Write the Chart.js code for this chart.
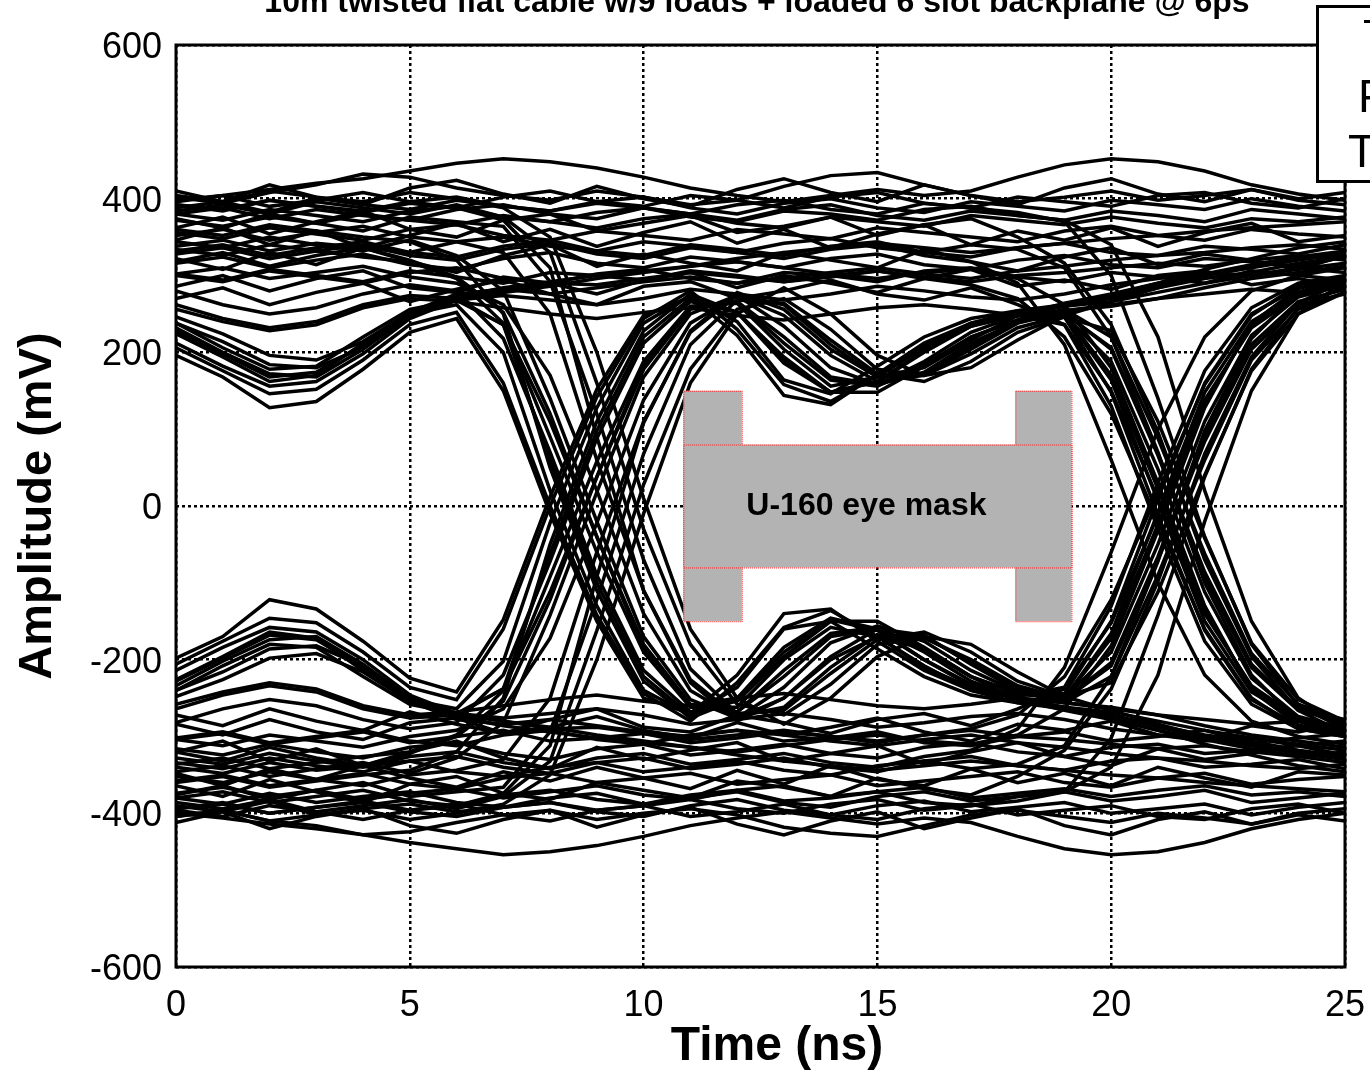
<!DOCTYPE html>
<html>
<head>
<meta charset="utf-8">
<title>Eye diagram</title>
<script src="https://cdn.jsdelivr.net/npm/chart.js@4.4.1/dist/chart.umd.min.js"></script>
<style>
  body { margin: 0; background: #fff; }
  canvas { display: block; }
</style>
</head>
<body>
<canvas id="eye" width="1370" height="1075"></canvas>
<script>
// sample times in ns, one point per ns
const timeNs = [0,1,2,3,4,5,6,7,8,9,10,11,12,13,14,15,16,17,18,19,20,21,22,23,24,25];
const xTicks = [0, 5, 10, 15, 20, 25];
const yTicks = [-600, -400, -200, 0, 200, 400, 600];

const titleText = '10m twisted flat cable w/9 loads + loaded 6 slot backplane @ 6ps';

// --- traces starting high (mV) ---
const steadyHigh = [
  [388,396,382,401,392,386,398,390,384,396,402,388,380,394,400,388,382,396,390,384,398,392,386,400,390,384],
  [402,394,408,418,432,428,414,404,398,410,402,392,398,416,430,434,418,404,396,402,410,398,404,412,398,392],
  [372,364,376,368,380,372,366,378,370,362,374,380,368,362,376,370,364,378,372,366,376,368,362,374,370,376],
  [398,404,412,420,426,436,446,452,448,440,428,414,404,396,404,412,404,410,428,444,452,448,436,418,406,398],
  [332,340,326,336,344,330,324,338,346,332,326,340,334,326,338,344,330,324,336,342,330,326,338,334,328,340],
  [300,292,306,298,290,304,310,296,290,302,308,296,290,304,300,292,306,310,298,292,304,298,290,306,300,294],
  [356,348,362,354,346,360,366,352,346,358,352,346,360,354,348,362,356,350,344,358,364,352,346,360,354,350],
  [396,404,390,398,408,396,388,402,410,396,390,404,398,388,402,408,394,388,402,396,390,404,408,394,388,400],
  [380,372,386,378,370,384,390,376,370,382,388,376,370,384,380,372,386,390,378,372,384,378,370,386,380,374],
  [316,324,310,320,328,314,308,322,330,316,310,324,318,310,322,328,314,308,320,326,314,310,322,318,312,324],
  [346,362,340,358,336,352,368,344,360,338,356,370,342,360,336,354,366,340,358,346,362,338,356,368,344,352],
  [410,396,418,402,392,414,424,406,394,416,400,390,412,426,408,396,418,404,392,414,426,406,396,412,400,408],
  [322,308,330,314,336,318,304,326,340,312,328,316,306,330,320,310,334,318,306,324,336,314,328,320,308,326],
  [286,300,280,296,306,284,278,298,290,276,294,304,284,300,290,278,296,308,286,294,282,300,306,288,296,284]
];
const highFallAtT2 = [
  [392,384,398,390,384,396,402,390,384,394,388,380,392,398,386,380,394,388,382,370,300,140,-40,-180,-260,-290],
  [338,346,332,342,336,330,344,350,338,332,344,338,330,342,348,336,330,340,334,310,220,70,-100,-220,-280,-300],
  [302,294,308,300,292,306,298,290,304,300,294,306,300,292,298,306,296,288,270,220,120,-20,-160,-250,-290,-300],
  [232,200,172,168,204,248,272,284,292,300,306,312,318,310,302,296,304,308,296,262,180,30,-130,-240,-285,-300],
  [380,388,374,386,378,372,386,392,380,374,388,380,372,386,392,378,372,384,378,372,340,220,20,-150,-250,-290],
  [328,336,322,332,340,326,320,334,342,328,322,336,330,322,334,340,326,318,290,210,60,-100,-220,-280,-300,-310],
  [362,376,354,370,384,360,350,372,380,358,368,378,356,364,376,352,366,374,350,316,236,96,-70,-196,-266,-296],
  [270,284,262,278,290,266,282,294,276,262,286,292,270,280,294,276,268,284,262,236,150,10,-140,-234,-276,-290]
];
const settleHigh = [
  [212,182,156,162,198,244,268,278,286,296,304,312,322,330,336,342,336,330,336,342,348,352,358,362,366,370],
  [246,224,196,190,214,252,276,282,276,284,292,298,290,296,304,310,302,296,306,312,320,326,330,336,340,334],
  [256,240,228,236,258,270,266,258,250,244,252,258,248,242,250,258,262,256,248,254,262,270,276,282,278,284],
  [228,198,168,174,210,250,272,280,290,288,296,304,298,292,300,306,298,292,300,304,310,316,312,320,326,320],
  [238,214,184,180,206,246,268,274,268,262,270,282,276,268,276,286,280,272,268,276,288,296,304,300,310,304]
];
const fallStayLow = [
  [392,386,398,390,382,394,388,372,310,90,-110,-230,-280,-250,-200,-170,-186,-222,-252,-266,-278,-292,-304,-316,-326,-334],
  [334,326,340,332,324,318,296,238,90,-60,-190,-262,-262,-200,-158,-170,-208,-240,-256,-264,-272,-286,-298,-306,-318,-326],
  [224,194,162,170,212,250,262,200,20,-130,-240,-272,-236,-160,-150,-186,-222,-246,-256,-262,-268,-280,-292,-302,-310,-318],
  [196,168,128,136,178,226,244,150,-10,-150,-250,-270,-220,-140,-134,-176,-214,-240,-250,-256,-262,-272,-286,-298,-306,-314],
  [404,396,410,402,396,408,400,388,350,200,10,-160,-250,-284,-250,-196,-170,-180,-216,-248,-266,-284,-300,-312,-322,-330],
  [360,352,366,358,350,344,320,250,50,-110,-228,-276,-252,-190,-148,-162,-200,-234,-252,-262,-272,-288,-300,-310,-320,-328],
  [318,330,312,326,336,320,298,252,120,-40,-180,-258,-268,-222,-170,-160,-190,-228,-250,-262,-276,-292,-310,-324,-338,-346]
];
const fallThenRise = [
  [384,392,380,396,388,380,392,376,330,160,-30,-180,-258,-272,-232,-180,-172,-200,-234,-250,-190,-50,110,222,272,288],
  [344,336,350,340,332,346,326,280,140,-20,-170,-252,-276,-236,-178,-156,-176,-214,-242,-250,-172,-24,132,236,278,294],
  [238,206,178,182,220,256,268,236,60,-100,-222,-272,-250,-184,-146,-160,-200,-232,-246,-244,-150,10,160,250,284,296],
  [302,310,296,304,312,298,290,262,170,20,-140,-240,-276,-250,-196,-160,-168,-206,-240,-256,-222,-90,60,190,256,278],
  [262,244,232,240,262,274,270,236,110,-40,-186,-260,-268,-214,-166,-158,-186,-222,-244,-252,-208,-70,84,204,262,276],
  [352,360,346,356,364,350,344,330,250,60,-110,-226,-274,-262,-210,-168,-170,-204,-238,-252,-204,-66,92,210,266,282],
  [206,176,146,152,190,236,252,160,0,-142,-244,-280,-230,-158,-136,-170,-210,-236,-248,-236,-130,30,176,258,290,300],
  [374,362,380,368,358,376,370,364,292,120,-70,-212,-270,-266,-218,-174,-164,-190,-228,-248,-230,-112,40,176,250,278],
  [280,262,250,258,276,288,280,218,70,-90,-214,-268,-254,-196,-150,-150,-184,-222,-244,-250,-166,-8,148,240,276,290]
];

// --- traces starting low (mV) ---
const steadyLow = [
  [-390,-398,-384,-402,-394,-388,-398,-392,-386,-398,-404,-390,-382,-396,-402,-390,-384,-398,-392,-386,-400,-394,-388,-402,-392,-386],
  [-404,-396,-410,-416,-428,-424,-412,-402,-396,-408,-400,-394,-402,-418,-426,-430,-416,-402,-396,-404,-412,-400,-406,-414,-400,-394],
  [-374,-366,-378,-370,-382,-374,-368,-380,-372,-364,-376,-382,-370,-364,-378,-372,-366,-380,-374,-368,-378,-370,-364,-376,-372,-378],
  [-400,-406,-414,-420,-428,-438,-446,-454,-450,-442,-430,-416,-406,-398,-406,-414,-406,-412,-430,-446,-454,-450,-438,-420,-408,-400],
  [-334,-342,-328,-338,-346,-332,-326,-340,-348,-334,-328,-342,-336,-328,-340,-346,-332,-326,-338,-344,-332,-328,-340,-336,-330,-342],
  [-302,-294,-308,-300,-292,-306,-312,-298,-292,-304,-310,-298,-292,-306,-302,-294,-308,-312,-300,-294,-306,-300,-292,-308,-302,-296],
  [-358,-350,-364,-356,-348,-362,-368,-354,-348,-360,-354,-348,-362,-356,-350,-364,-358,-352,-346,-360,-366,-354,-348,-362,-356,-352],
  [-396,-404,-390,-398,-408,-396,-388,-402,-410,-396,-390,-404,-398,-388,-402,-408,-394,-388,-402,-396,-390,-404,-408,-394,-388,-400],
  [-380,-372,-386,-378,-370,-384,-390,-376,-370,-382,-388,-376,-370,-384,-380,-372,-386,-390,-378,-372,-384,-378,-370,-386,-380,-374],
  [-316,-324,-310,-320,-328,-314,-308,-322,-330,-316,-310,-324,-318,-310,-322,-328,-314,-308,-320,-326,-314,-310,-322,-318,-312,-324],
  [-348,-364,-342,-356,-338,-354,-366,-346,-358,-340,-354,-368,-344,-362,-338,-356,-364,-342,-360,-348,-364,-340,-354,-366,-346,-350],
  [-412,-398,-420,-404,-394,-416,-426,-408,-396,-418,-402,-392,-414,-428,-410,-398,-420,-406,-394,-416,-428,-408,-398,-414,-402,-410],
  [-320,-306,-332,-316,-338,-320,-306,-328,-342,-314,-330,-318,-308,-332,-322,-312,-336,-320,-308,-326,-338,-316,-330,-322,-310,-328],
  [-284,-298,-278,-294,-304,-282,-276,-296,-288,-274,-292,-302,-282,-298,-288,-276,-294,-306,-284,-292,-280,-298,-304,-286,-294,-282]
];
const lowRiseAtT2 = [
  [-394,-386,-400,-392,-386,-398,-404,-392,-386,-396,-390,-382,-394,-400,-388,-382,-396,-390,-384,-372,-302,-142,38,178,258,288],
  [-340,-348,-334,-344,-338,-332,-346,-352,-340,-334,-346,-340,-332,-344,-350,-338,-332,-342,-336,-312,-222,-72,98,218,278,298],
  [-304,-296,-310,-302,-294,-308,-300,-292,-306,-302,-296,-308,-302,-294,-300,-308,-298,-290,-272,-222,-122,18,158,248,288,298],
  [-234,-202,-174,-170,-206,-250,-274,-286,-294,-302,-308,-314,-320,-312,-304,-298,-306,-310,-298,-264,-182,-32,128,238,283,298],
  [-380,-388,-374,-386,-378,-372,-386,-392,-380,-374,-388,-380,-372,-386,-392,-378,-372,-384,-378,-372,-340,-220,-20,150,250,290],
  [-328,-336,-322,-332,-340,-326,-320,-334,-342,-328,-322,-336,-330,-322,-334,-340,-326,-318,-290,-210,-60,100,220,280,300,310],
  [-364,-378,-356,-372,-386,-362,-352,-374,-382,-360,-370,-380,-358,-366,-378,-354,-368,-376,-352,-318,-238,-98,68,194,264,294],
  [-272,-286,-264,-280,-292,-268,-284,-296,-278,-264,-288,-294,-272,-282,-296,-278,-270,-286,-264,-238,-152,-12,138,232,274,288]
];
const settleLow = [
  [-214,-184,-158,-164,-200,-246,-270,-280,-288,-298,-306,-314,-324,-332,-338,-344,-338,-332,-338,-344,-350,-354,-360,-364,-368,-372],
  [-248,-226,-198,-192,-216,-254,-278,-284,-278,-286,-294,-300,-292,-298,-306,-312,-304,-298,-308,-314,-322,-328,-332,-338,-342,-336],
  [-258,-242,-230,-238,-260,-272,-268,-260,-252,-246,-254,-260,-250,-244,-252,-260,-264,-258,-250,-256,-264,-272,-278,-284,-280,-286],
  [-228,-198,-168,-174,-210,-250,-272,-280,-290,-288,-296,-304,-298,-292,-300,-306,-298,-292,-300,-304,-310,-316,-312,-320,-326,-320],
  [-240,-216,-186,-182,-208,-248,-270,-276,-270,-264,-272,-284,-278,-270,-278,-288,-282,-274,-270,-278,-290,-298,-306,-302,-312,-306]
];
const riseStayHigh = [
  [-394,-388,-400,-392,-384,-396,-390,-374,-312,-92,108,228,278,256,204,168,180,216,248,264,276,290,302,314,324,332],
  [-336,-328,-342,-334,-326,-320,-298,-240,-92,58,188,260,264,204,156,168,206,238,254,262,270,284,296,304,316,324],
  [-226,-196,-164,-172,-214,-252,-264,-202,-22,128,238,274,240,164,146,182,220,244,254,260,266,278,290,300,308,316],
  [-198,-170,-122,-134,-176,-224,-242,-148,12,152,248,272,222,144,132,172,212,238,248,254,260,270,284,296,304,312],
  [-404,-396,-410,-402,-396,-408,-400,-388,-350,-200,-10,160,250,284,250,196,170,180,216,248,266,284,300,312,322,330],
  [-360,-352,-366,-358,-350,-344,-320,-250,-50,110,228,276,252,190,148,162,200,234,252,262,272,288,300,310,320,328],
  [-320,-332,-314,-328,-338,-322,-300,-254,-122,38,178,256,266,220,168,158,188,226,248,260,274,290,308,322,336,344]
];
const riseThenFall = [
  [-386,-394,-382,-398,-390,-382,-394,-378,-332,-162,28,178,256,270,230,178,170,198,232,248,188,48,-112,-224,-274,-290],
  [-346,-338,-352,-342,-334,-348,-328,-282,-142,18,168,250,274,234,180,158,174,212,240,250,170,22,-134,-238,-280,-296],
  [-240,-208,-180,-184,-222,-258,-270,-238,-62,98,220,270,252,186,148,162,202,234,248,246,148,-12,-162,-252,-286,-298],
  [-304,-312,-298,-306,-314,-300,-292,-264,-172,-22,138,238,274,248,196,162,170,208,242,256,220,88,-62,-192,-258,-280],
  [-264,-246,-234,-242,-264,-276,-272,-238,-112,38,184,258,266,212,164,156,184,220,242,250,206,68,-86,-206,-264,-278],
  [-352,-360,-346,-356,-364,-350,-344,-330,-250,-60,110,226,274,262,210,168,170,204,238,252,204,66,-92,-210,-266,-282],
  [-206,-176,-146,-152,-190,-236,-252,-160,0,142,244,280,230,158,136,170,210,236,248,236,130,-30,-176,-258,-290,-300],
  [-376,-364,-382,-370,-360,-378,-372,-366,-294,-122,68,210,268,264,216,172,162,188,226,246,228,110,-42,-178,-252,-280],
  [-282,-264,-252,-260,-278,-290,-282,-220,-72,88,212,266,252,194,148,148,182,220,242,248,164,6,-150,-242,-278,-292]
];

// U-160 eye mask corners (ns, mV)
const maskBodyX = [10.85, 19.15];
const maskBodyY = [-80, 80];
const maskPostLeftX = [10.85, 12.1];
const maskPostRightX = [17.95, 19.15];
const maskPostY = [-150, 150];

const FONT = "'Liberation Sans', Arial, Helvetica, sans-serif";
Chart.defaults.color = '#000';
Chart.defaults.font.family = FONT;

function toPoints(values) {
  return timeNs.map((t, i) => ({ x: t, y: values[i] }));
}

const allTraces = [].concat(
  steadyHigh, highFallAtT2, settleHigh, fallStayLow, fallThenRise,
  steadyLow, lowRiseAtT2, settleLow, riseStayHigh, riseThenFall
);

const datasets = allTraces.map(tr => ({
  data: toPoints(tr),
  borderColor: '#000',
  borderWidth: 3.5,
  pointRadius: 0,
  fill: false,
  tension: 0
}));

const eyeMask = {
  id: 'eyeMask',
  afterDatasetsDraw(chart) {
    const { ctx, scales: { x, y } } = chart;
    const box = (xs, ys) => {
      const l = x.getPixelForValue(xs[0]);
      const r = x.getPixelForValue(xs[1]);
      const t = y.getPixelForValue(ys[1]);
      const b = y.getPixelForValue(ys[0]);
      return [l, t, r - l, b - t];
    };
    const body = box(maskBodyX, maskBodyY);
    const posts = [box(maskPostLeftX, maskPostY), box(maskPostRightX, maskPostY)];
    ctx.save();
    ctx.lineWidth = 1;
    ctx.setLineDash([1, 1]);
    ctx.strokeStyle = '#ff2020';
    ctx.fillStyle = '#b3b3b3';
    posts.forEach(r => {
      ctx.fillRect(r[0], r[1], r[2], r[3]);
      ctx.strokeRect(r[0] + 0.5, r[1] + 0.5, r[2], r[3]);
    });
    ctx.fillRect(body[0], body[1], body[2], body[3]);
    ctx.strokeRect(body[0] + 0.5, body[1] + 0.5, body[2], body[3]);
    ctx.setLineDash([]);

    ctx.fillStyle = '#000';
    ctx.font = 'bold 32px ' + FONT;
    ctx.textAlign = 'center';
    ctx.textBaseline = 'middle';
    const cx = x.getPixelForValue((maskBodyX[0] + maskBodyX[1]) / 2) - 11;
    ctx.fillText('U-160 eye mask', cx, y.getPixelForValue(0));

    // frame around the plot
    const a = chart.chartArea;
    ctx.lineWidth = 3;
    ctx.strokeStyle = '#000';
    ctx.strokeRect(a.left, a.top, a.right - a.left, a.bottom - a.top);
    ctx.restore();
  },
  afterDraw(chart) {
    const ctx = chart.ctx;
    ctx.save();
    ctx.fillStyle = '#000';
    ctx.textAlign = 'center';

    // x axis title, sits a little right of centre in the source
    ctx.font = 'bold 48px ' + FONT;
    ctx.textBaseline = 'middle';
    ctx.fillText('Time (ns)', 777, 1047);

    // title, cut off at the top like the source
    ctx.textBaseline = 'alphabetic';
    ctx.font = 'bold 32px ' + FONT;
    ctx.fillText(titleText, 757, 12);

    // legend box that runs off the right edge
    ctx.fillStyle = '#fff';
    ctx.fillRect(1316, 5, 60, 178);
    ctx.lineWidth = 3;
    ctx.strokeStyle = '#000';
    ctx.strokeRect(1317.5, 6.5, 60, 175);
    ctx.fillStyle = '#000';
    ctx.fillRect(1364, 20, 8, 3);
    ctx.font = '46px ' + FONT;
    ctx.textAlign = 'left';
    ctx.fillText('P', 1358, 112);
    ctx.fillText('T', 1348, 167);
    ctx.restore();
  }
};

new Chart(document.getElementById('eye'), {
  type: 'line',
  data: { datasets },
  options: {
    responsive: false,
    animation: false,
    devicePixelRatio: 1,
    layout: { padding: { top: 45, right: 25, left: 0, bottom: 0 } },
    plugins: {
      legend: { display: false },
      tooltip: { enabled: false },
      title: { display: false }
    },
    scales: {
      x: {
        type: 'linear',
        min: 0,
        max: 25,
        afterBuildTicks: s => { s.ticks = xTicks.map(v => ({ value: v })); },
        afterFit: s => { s.height = 108; },
        ticks: { font: { size: 36 }, padding: 2, maxRotation: 0, autoSkip: false },
        grid: {
          color: '#000', lineWidth: 2.5, borderDash: [3, 3],
          drawTicks: true, tickLength: 15, tickWidth: 0, tickColor: 'rgba(0,0,0,0)'
        },
        border: { display: false, dash: [3, 3] }
      },
      y: {
        type: 'linear',
        min: -600,
        max: 600,
        afterBuildTicks: s => { s.ticks = yTicks.map(v => ({ value: v })); },
        afterFit: s => { s.width = 176; },
        ticks: { font: { size: 36 }, padding: 14, labelOffset: 3, autoSkip: false },
        grid: { color: '#000', lineWidth: 2.5, borderDash: [3, 3], drawTicks: false },
        border: { display: false, dash: [3, 3] },
        title: {
          display: true,
          text: 'Amplitude (mV)',
          font: { size: 47, weight: 'bold' },
          padding: { top: 10, bottom: 0 }
        }
      }
    }
  },
  plugins: [eyeMask]
});
</script>
</body>
</html>
